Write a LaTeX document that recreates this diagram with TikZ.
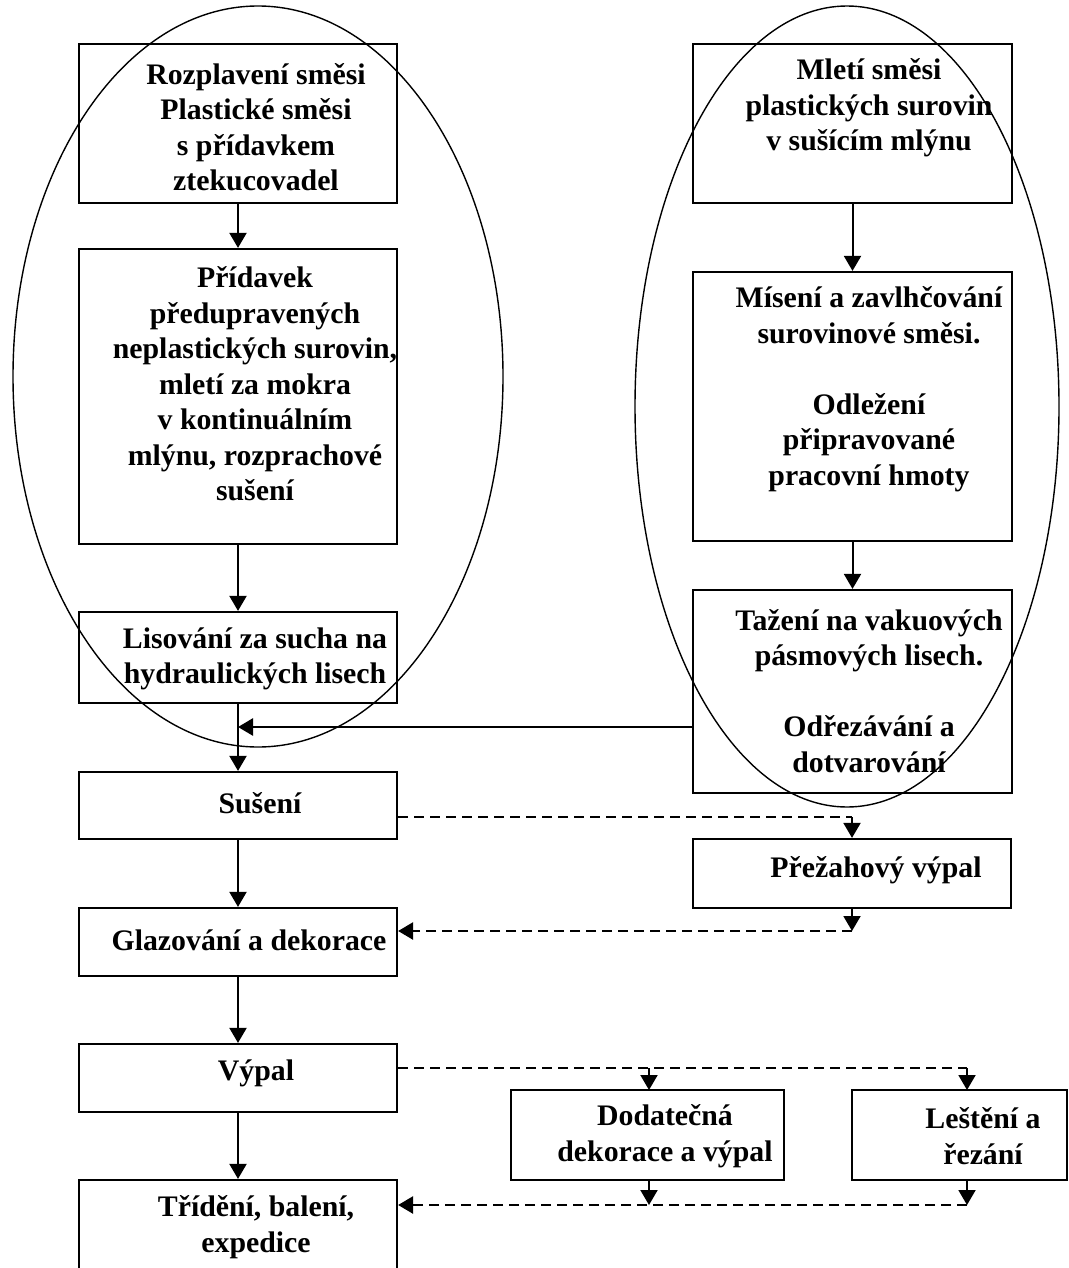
\documentclass[tikz,border=0pt]{standalone}
\usepackage{fontspec}
\setmainfont{Liberation Serif}
\usepackage{tikz}
\usetikzlibrary{arrows.meta,fit}

\begin{document}
\begin{tikzpicture}[x=0.5pt, y=-0.5pt, line width=1pt,
        box/.style={draw, line width=1.1pt, inner sep=0pt},
        txt/.style={align=center, inner sep=0pt,
            font=\fontsize{14.9}{17.75}\selectfont\bfseries},
        oval/.style={line width=0.7pt},
        dashline/.style={line width=1.3pt, dash pattern=on 5pt off 3pt},
        >={Triangle[length=7.5pt,width=8.5pt]}]

    \useasboundingbox (0,0) rectangle (1069,1268);

    % left column
    \node[box, fit={(79,44) (397,203)}] (rozpl) {};
    \node[box, fit={(79,249) (397,544)}] (pridav) {};
    \node[box, fit={(79,612) (397,703)}] (lisov) {};
    \node[box, fit={(79,772) (397,839)}] (suseni) {};
    \node[box, fit={(79,908) (397,976)}] (glaz) {};
    \node[box, fit={(79,1044) (397,1112)}] (vypal) {};
    \node[box, fit={(79,1180) (397,1274)}] (trid) {};

    % right column
    \node[box, fit={(693,44) (1012,203)}] (mleti) {};
    \node[box, fit={(693,272) (1012,541)}] (misen) {};
    \node[box, fit={(693,590) (1012,793)}] (tazen) {};
    \node[box, fit={(693,839) (1011,908)}] (prez) {};
    \node[box, fit={(511,1090) (784,1180)}] (dodat) {};
    \node[box, fit={(852,1090) (1067,1180)}] (lesten) {};

    \node[txt] (rozpl-t) at (256,127) {Rozplavení směsi\\Plastické směsi\\s přídavkem\\ztekucovadel};
    \node[txt] (pridav-t) at (255,384) {Přídavek\\předupravených\\neplastických surovin,\\mletí za mokra\\v kontinuálním\\mlýnu, rozprachové\\sušení};
    \node[txt] (lisov-t) at (255,659) {Lisování za sucha na\\hydraulických lisech};
    \node[txt] (suseni-t) at (260,803) {Sušení};
    \node[txt] (glaz-t) at (249,940) {Glazování a dekorace};
    \node[txt] (vypal-t) at (256,1073) {Výpal};
    \node[txt] (trid-t) at (256,1227) {Třídění, balení,\\expedice};
    \node[txt] (mleti-t) at (869,108) {Mletí směsi\\plastických surovin\\v sušícím mlýnu};
    \node[txt] (misen-t) at (869,389) {Mísení a zavlhčování\\surovinové směsi.\\[17.75pt]Odležení\\připravované\\pracovní hmoty};
    \node[txt] (tazen-t) at (869,691) {Tažení na vakuových\\pásmových lisech.\\[17.75pt]Odřezávání a\\dotvarování};
    \node[txt] (prez-t) at (876,870) {Přežahový výpal};
    \node[txt] (dodat-t) at (665,1136) {Dodatečná\\dekorace a výpal};
    \node[txt] (lesten-t) at (983,1136) {Leštění a\\řezání};

    \coordinate (join) at (238,727);

    % main flow
    \draw[->] (rozpl) -- (pridav);
    \draw[->] (pridav) -- (lisov);
    \draw[->] (lisov) -- (suseni);
    \draw[->] (suseni) -- (glaz);
    \draw[->] (glaz) -- (vypal);
    \draw[->] (vypal) -- (trid);
    \draw[->] (mleti) -- (misen);
    \draw[->] (misen) -- (tazen);
    \draw[->, line width=1.3pt] (tazen.west |- join) -- (join);

    % side branches
    \draw[dashline] (suseni.east |- 0,817) -- (prez.north |- 0,817);
    \draw[->] (prez.north |- 0,817) -- (prez.north);
    \draw[->] (prez.south) -- (852,931);
    \draw[dashline, ->] (852,931) -- (glaz.east |- 0,931);
    \draw[dashline] (vypal.east |- 0,1068) -- (967,1068);
    \draw[->] (649,1068) -- (649,1090);
    \draw[->] (967,1068) -- (967,1090);
    \draw[->] (649,1180) -- (649,1205);
    \draw[->] (967,1180) -- (967,1205);
    \draw[dashline, ->] (967,1205) -- (trid.east |- 0,1205);

    % groups
    \draw[oval] (258,376.5) ellipse [x radius=122.5pt, y radius=185.25pt];
    \draw[oval] (847,406.5) ellipse [x radius=106pt, y radius=200.25pt];

\end{tikzpicture}
\end{document}
